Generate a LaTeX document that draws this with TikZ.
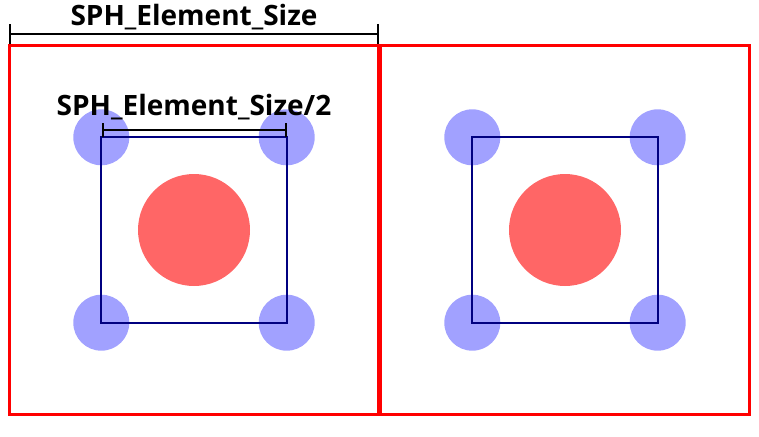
\documentclass[tikz,border=0pt]{standalone}
\usepackage{fontspec}
\setmainfont{Open Sans}
\usetikzlibrary{arrows.meta}
\colorlet{cellEdge}{red}
\colorlet{kernelFill}{red!60}
\colorlet{particleFill}{blue!37}
\colorlet{supportEdge}{blue!50!black}
\begin{document}
\begin{tikzpicture}[
  x=1pt,y=-1pt,
  cellbox/.style={
    draw=cellEdge,
    line width=3.2pt,
    minimum size=369pt,
    inner sep=0pt,
  },
  kernel/.style={
    circle,
    fill=kernelFill,
    minimum size=112pt,
    inner sep=0pt,
  },
  particle/.style={
    circle,
    fill=particleFill,
    minimum size=56pt,
    inner sep=0pt,
  },
  supportbox/.style={
    minimum size=185pt,
    inner sep=0pt,
  },
  support/.style={
    draw=supportEdge,
    line width=2pt,
  },
  dimline/.style={
    draw=black,
    line width=2pt,
  },
  sizelabel/.style={
    font=\fontsize{28}{30}\selectfont\bfseries,
    inner sep=0pt,
    anchor=base,
  }
]
\useasboundingbox (0,0) rectangle (759,436);
\foreach \n/\cx in {l/194,r/565} {
  \node[cellbox] (cell\n) at (\cx,230) {};
  \node[kernel] (kernel\n) at (\cx,230) {};
  \node[supportbox] (sup\n) at (\cx,230) {};
  \foreach \c in {north west,north east,south west,south east} {
    \node[particle] (p\n\c) at (sup\n.\c) {};
  }
  \draw[support] (sup\n.north west) rectangle (sup\n.south east);
}
% element size
\coordinate (sizeA) at (9,34);
\coordinate (sizeB) at (379,34);
\draw[dimline,{Bar[width=20pt]}-{Bar[width=20pt]}] (sizeA) -- (sizeB);
\node[sizelabel] (sizeText) at (194,26) {SPH\_Element\_Size};
% half element size
\coordinate (halfA) at (102,130);
\coordinate (halfB) at (287,130);
\draw[dimline,{Bar[width=14pt]}-{Bar[width=14pt]}] (halfA) -- (halfB);
\node[sizelabel] (halfText) at (194,115) {SPH\_Element\_Size/2};
\end{tikzpicture}
\end{document}
